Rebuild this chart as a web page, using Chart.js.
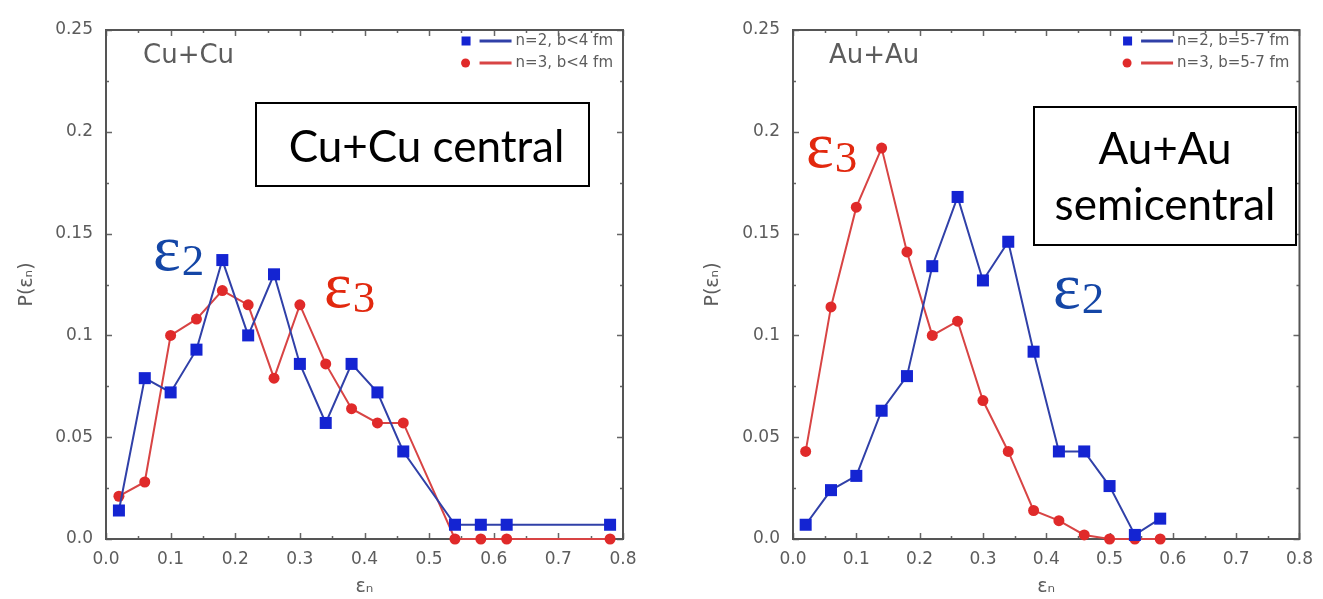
<!DOCTYPE html>
<html>
<head>
<meta charset="utf-8">
<script src="https://cdn.jsdelivr.net/npm/chart.js@4.4.0/dist/chart.umd.min.js"></script>
<style>
  body { margin: 0; background: #fff; }
  .panel { position: absolute; top: 0; }
</style>
</head>
<body>
<div class="panel" style="left:0"><canvas id="cuChart" width="660" height="599"></canvas></div>
<div class="panel" style="left:660px"><canvas id="auChart" width="663" height="599"></canvas></div>
<script>
// eccentricity bins (bin centres) and probabilities
const cuBins = [0.02, 0.06, 0.10, 0.14, 0.18, 0.22, 0.26, 0.30, 0.34, 0.38, 0.42, 0.46, 0.54, 0.58, 0.62, 0.78];
const cuEps2 = [0.014, 0.079, 0.072, 0.093, 0.137, 0.100, 0.130, 0.086, 0.057, 0.086, 0.072, 0.043, 0.007, 0.007, 0.007, 0.007];
const cuEps3 = [0.021, 0.028, 0.100, 0.108, 0.122, 0.115, 0.079, 0.115, 0.086, 0.064, 0.057, 0.057, 0.0, 0.0, 0.0, 0.0];

const auBins = [0.02, 0.06, 0.10, 0.14, 0.18, 0.22, 0.26, 0.30, 0.34, 0.38, 0.42, 0.46, 0.50, 0.54, 0.58];
const auEps2 = [0.007, 0.024, 0.031, 0.063, 0.080, 0.134, 0.168, 0.127, 0.146, 0.092, 0.043, 0.043, 0.026, 0.002, 0.010];
const auEps3 = [0.043, 0.114, 0.163, 0.192, 0.141, 0.100, 0.107, 0.068, 0.043, 0.014, 0.009, 0.002, 0.0, 0.0, 0.0];

const cuLabels = ["n=2, b<4 fm", "n=3, b<4 fm"];
const auLabels = ["n=2, b=5-7 fm", "n=3, b=5-7 fm"];

const xTickLabels = ["0.0", "0.1", "0.2", "0.3", "0.4", "0.5", "0.6", "0.7", "0.8"];
const yTickLabels = ["0.0", "0.05", "0.1", "0.15", "0.2", "0.25"];

const BLUE = "#1424d2", BLUE_LINE = "#3040a8";
const RED = "#e02a2a", RED_LINE = "#d84444";
const GREY = "#5c5c5c";

const pts = (xs, ys) => xs.map((x, i) => ({ x: x, y: ys[i] }));

// box, inward ticks on all four sides
const frameTicks = {
  id: "frameTicks",
  beforeDatasetsDraw(chart) {
    const { ctx, chartArea: a, scales: { x, y } } = chart;
    ctx.save();
    ctx.strokeStyle = "#666";
    ctx.lineWidth = 1.5;
    ctx.beginPath();
    for (let i = 0; i <= 16; i++) {
      const px = Math.round(x.getPixelForValue(i * 0.05)) + 0.5;
      const len = i % 2 ? 3 : 6;
      ctx.moveTo(px, a.bottom); ctx.lineTo(px, a.bottom - len);
      ctx.moveTo(px, a.top); ctx.lineTo(px, a.top + len);
    }
    for (let i = 0; i <= 10; i++) {
      const py = Math.round(y.getPixelForValue(i * 0.025)) + 0.5;
      const len = i % 2 ? 3 : 6;
      ctx.moveTo(a.left, py); ctx.lineTo(a.left + len, py);
      ctx.moveTo(a.right, py); ctx.lineTo(a.right - len, py);
    }
    ctx.stroke();
    ctx.lineWidth = 2;
    ctx.strokeStyle = "#555";
    ctx.strokeRect(a.left, a.top, a.right - a.left, a.bottom - a.top);
    ctx.restore();
  }
};

// legend inside the frame, marker + line + label
const innerLegend = {
  id: "innerLegend",
  afterDraw(chart) {
    const { ctx, chartArea: a } = chart;
    ctx.save();
    ctx.font = '15px "DejaVu Sans"';
    ctx.textAlign = "left";
    ctx.textBaseline = "middle";
    const w = Math.max(...chart.data.datasets.map(d => ctx.measureText(d.label).width));
    const tx = a.right - 10 - w;
    chart.data.datasets.forEach((d, i) => {
      const yy = a.top + 11 + i * 22;
      ctx.strokeStyle = d.borderColor;
      ctx.lineWidth = 3;
      ctx.beginPath(); ctx.moveTo(tx - 36, yy); ctx.lineTo(tx - 4, yy); ctx.stroke();
      ctx.fillStyle = d.pointBackgroundColor;
      if (d.pointStyle === "rect") ctx.fillRect(tx - 54, yy - 4.5, 9, 9);
      else { ctx.beginPath(); ctx.arc(tx - 50, yy, 4.5, 0, Math.PI * 2); ctx.fill(); }
      ctx.fillStyle = GREY;
      ctx.fillText(d.label, tx, yy);
    });
    ctx.restore();
  }
};

// system name, framed caption and the epsilon tags
const notes = {
  id: "notes",
  afterDraw(chart, args, opts) {
    const ctx = chart.ctx;
    ctx.save();
    ctx.fillStyle = GREY;
    ctx.font = '26px "DejaVu Sans"';
    ctx.textAlign = "left";
    ctx.textBaseline = "alphabetic";
    ctx.fillText(opts.system.text, opts.system.x, opts.system.y);

    const b = opts.box;
    ctx.fillStyle = "#fff";
    ctx.fillRect(b.x, b.y, b.w, b.h);
    ctx.strokeStyle = "#000";
    ctx.lineWidth = 2;
    ctx.strokeRect(b.x, b.y, b.w, b.h);
    ctx.fillStyle = "#000";
    ctx.font = '44px "Lato"';
    ctx.textAlign = "center";
    b.lines.forEach(l => ctx.fillText(l.text, b.x + b.w / 2 + (l.dx || 0), l.y));
    ctx.textAlign = "left";

    opts.tags.forEach(t => {
      ctx.fillStyle = t.color;
      ctx.font = '66px "Liberation Serif"';
      ctx.fillText("\u03b5", t.x, t.y);
      const ew = ctx.measureText("\u03b5").width;
      ctx.font = '45px "Liberation Serif"';
      ctx.fillText(t.n, t.x + ew + 1, t.y + (t.drop || 0));
    });
    ctx.restore();
  }
};

function makeChart(id, bins, e2, e3, labels, axisW, padRight, yTitlePad, notesOpts) {
  return new Chart(document.getElementById(id), {
    type: "line",
    data: {
      datasets: [
        {
          label: labels[0], data: pts(bins, e2),
          borderColor: BLUE_LINE, borderWidth: 2,
          pointStyle: "rect", pointRadius: 8.5, pointHoverRadius: 8.5,
          pointBackgroundColor: BLUE, pointBorderColor: BLUE, pointBorderWidth: 0,
          tension: 0, clip: false
        },
        {
          label: labels[1], data: pts(bins, e3),
          borderColor: RED_LINE, borderWidth: 2,
          pointStyle: "circle", pointRadius: 5.5, pointHoverRadius: 5.5,
          pointBackgroundColor: RED, pointBorderColor: RED, pointBorderWidth: 0,
          tension: 0, clip: false
        }
      ]
    },
    options: {
      responsive: false,
      animation: false,
      layout: { padding: { left: 0, right: padRight, top: 30, bottom: 0 } },
      plugins: { legend: { display: false }, tooltip: { enabled: false }, notes: notesOpts },
      scales: {
        x: {
          type: "linear", min: 0, max: 0.8,
          grid: { display: false, drawTicks: false },
          border: { display: false },
          afterFit: s => { s.height = 60; },
          ticks: {
            stepSize: 0.1, autoSkip: false, maxRotation: 0, padding: 10,
            color: GREY, font: { family: "DejaVu Sans", size: 17 },
            callback: (v, i) => xTickLabels[i]
          },
          title: {
            display: true, text: "\u03b5\u2099", color: GREY,
            font: { family: "DejaVu Sans", size: 19 }, padding: { top: 0, bottom: 1 }
          }
        },
        y: {
          min: 0, max: 0.25,
          grid: { display: false, drawTicks: false },
          border: { display: false },
          afterFit: s => { s.width = axisW; },
          ticks: {
            stepSize: 0.05, padding: 13,
            color: GREY, font: { family: "DejaVu Sans", size: 17 },
            callback: (v, i) => yTickLabels[i]
          },
          title: {
            display: true, text: "P(\u03b5\u2099)", color: GREY,
            font: { family: "DejaVu Sans", size: 19 }, padding: { top: yTitlePad, bottom: 0 }
          }
        }
      }
    },
    plugins: [frameTicks, innerLegend, notes]
  });
}

makeChart("cuChart", cuBins, cuEps2, cuEps3, cuLabels, 106, 37, 16, {
  system: { text: "Cu+Cu", x: 143, y: 63 },
  box: { x: 256, y: 103, w: 333, h: 83, lines: [{ text: "Cu+Cu central", y: 162, dx: 4 }] },
  tags: [
    { color: "#1446a6", n: "2", x: 153, y: 270, drop: 5 },
    { color: "#e2280e", n: "3", x: 324, y: 307, drop: 5 }
  ]
});

makeChart("auChart", auBins, auEps2, auEps3, auLabels, 133, 13, 42, {
  system: { text: "Au+Au", x: 169, y: 63 },
  box: { x: 374, y: 107, w: 262, h: 138, lines: [{ text: "Au+Au", y: 164 }, { text: "semicentral", y: 220 }] },
  tags: [
    { color: "#e2280e", n: "3", x: 146, y: 167, drop: 5 },
    { color: "#1446a6", n: "2", x: 393, y: 308, drop: 5 }
  ]
});
</script>
</body>
</html>
